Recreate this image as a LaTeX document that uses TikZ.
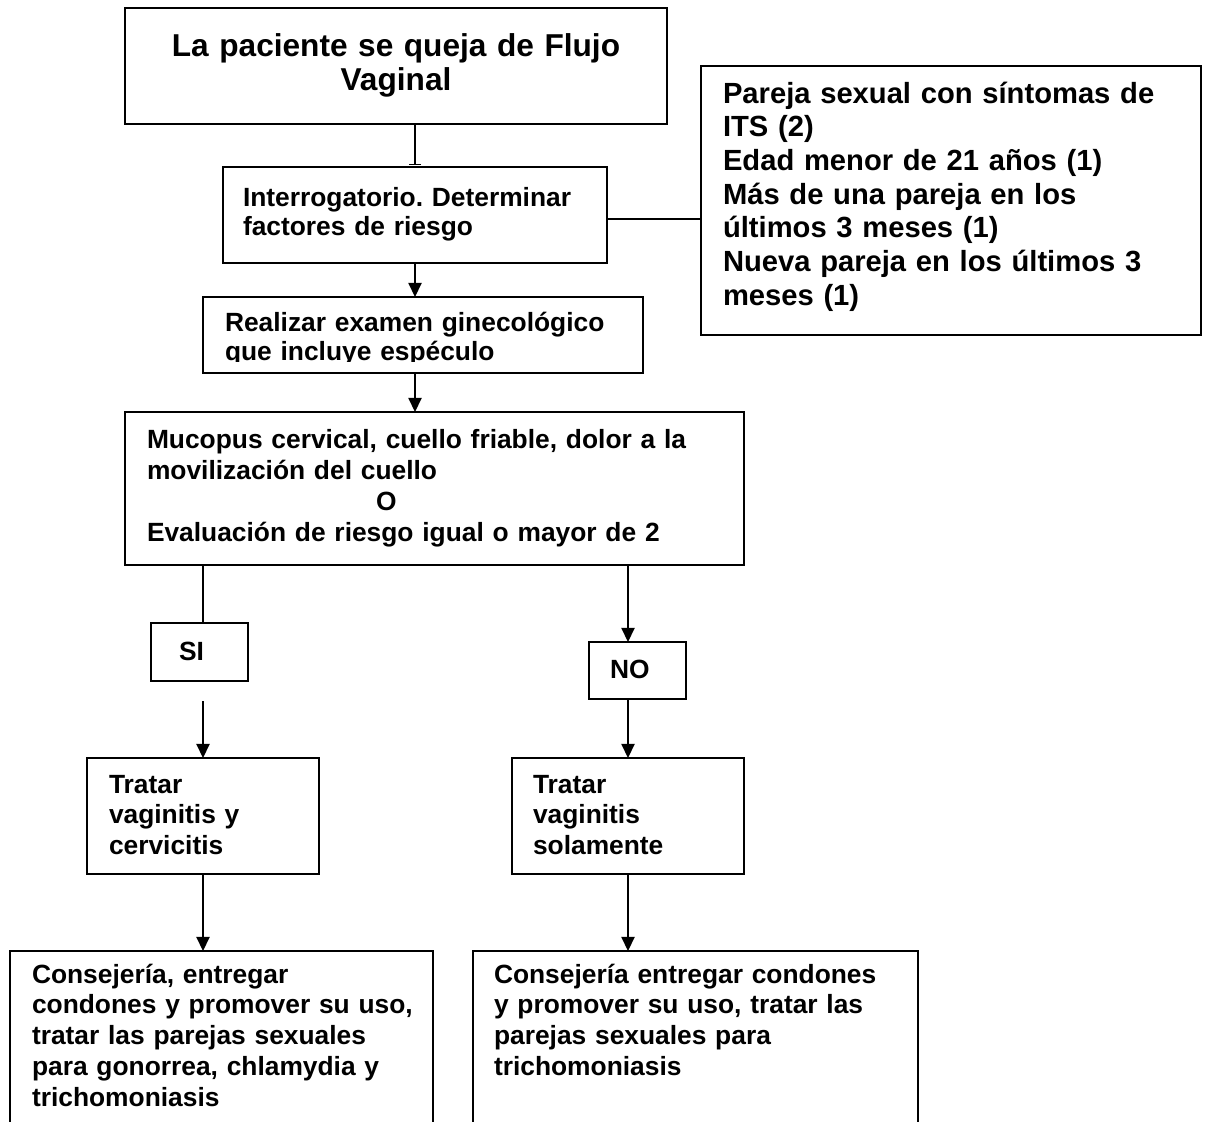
\documentclass[tikz,border=0pt]{standalone}
\usepackage{fontspec}
\setmainfont{Liberation Sans}
\usetikzlibrary{arrows.meta}
\newcommand{\flowtitle}{\bfseries\fontsize{18}{19.4}\selectfont}
\newcommand{\flowbody}{\bfseries\fontsize{15}{17.6}\selectfont}
\newcommand{\flowtight}{\bfseries\fontsize{15}{16.5}\selectfont}
\newcommand{\flowsigns}{\bfseries\fontsize{15}{17.8}\selectfont}
\newcommand{\flowrisk}{\bfseries\fontsize{16.6}{19.2}\selectfont}
\frenchspacing

\begin{document}
\begin{tikzpicture}[>={Triangle[length=8pt,width=7.5pt]}, line width=0.8pt]
	\tikzstyle{box} = [rectangle, draw=black, line width=1pt, anchor=north west, outer sep=0pt, inner ysep=0pt, inner xsep=0.44cm, align=left, font=\flowbody]
	\useasboundingbox (0,0) rectangle (24.1,-22.42);
	\clip (0,0) rectangle (24.1,-22.42);
	\node (complaint)[box, align=center, inner xsep=0.3cm, text width=10.24cm, text height=0.96cm, text depth=1.36cm, font=\flowtitle] at (2.50,-0.16) {La paciente se queja de Flujo\\Vaginal};
	\node (interview)[box, inner xsep=0.40cm, text width=6.88cm, text height=0.78cm, text depth=1.14cm, font=\flowtight] at (4.46,-3.34) {Interrogatorio. Determinar\\factores de riesgo};
	\node (risk)[box, text width=9.12cm, text height=0.74cm, text depth=4.64cm, font=\flowrisk] at (14.02,-1.32) {Pareja sexual con síntomas de\\ITS (2)\\Edad menor de 21 años (1)\\Más de una pareja en los\\últimos 3 meses (1)\\Nueva pareja en los últimos 3\\meses (1)};
	% text of the exam box is cut off at the bottom
	\begin{scope}
		\clip (3.9,-5.8) rectangle (13.1,-7.23);
		\node (exam)[box, draw=none, text width=7.92cm, text height=0.68cm, text depth=0.84cm, font=\flowtight] at (4.06,-5.94) {Realizar examen ginecológico\\que incluye espéculo};
	\end{scope}
	\draw [line width=1pt] (exam.north west) rectangle (exam.south east);
	\node (signs)[box, text width=11.50cm, text height=0.72cm, text depth=2.34cm, font=\flowsigns] at (2.50,-8.24) {Mucopus cervical, cuello friable, dolor a la\\movilización del cuello\\\hspace*{4.58cm}O\\Evaluación de riesgo igual o mayor de 2};
	\node (si)[box, inner xsep=0.56cm, text width=0.82cm, text height=0.74cm, text depth=0.42cm] at (3.02,-12.46) {SI};
	\node (no)[box, inner xsep=0.42cm, text width=1.10cm, text height=0.72cm, text depth=0.42cm] at (11.78,-12.84) {NO};
	\node (treatboth)[box, text width=3.76cm, text height=0.70cm, text depth=1.62cm] at (1.74,-15.16) {Tratar\\vaginitis y\\cervicitis};
	\node (treatvag)[box, inner xsep=0.42cm, text width=3.80cm, text height=0.70cm, text depth=1.62cm] at (10.24,-15.16) {Tratar\\vaginitis\\solamente};
	\node (counselboth)[box, text width=7.58cm, text height=0.64cm, text depth=3.34cm] at (0.20,-19.02) {Consejería, entregar\\\mbox{condones y promover su uso,}\\tratar las parejas sexuales\\para gonorrea, chlamydia y\\trichomoniasis};
	\node (counselvag)[box, inner xsep=0.42cm, text width=8.06cm, text height=0.64cm, text depth=3.34cm] at (9.46,-19.02) {Consejería entregar condones\\y promover su uso, tratar las\\parejas sexuales para\\trichomoniasis};
	% connectors
	\draw [-{Bar[width=7pt]}, shorten >=1pt] (interview.north |- complaint.south) -- (interview.north);
	\draw ([yshift=-0.08cm]interview.east) -- ([yshift=-0.08cm]interview.east -| risk.west);
	\draw [->] (interview.south) -- (interview.south |- exam.north);
	\draw [->] (interview.south |- exam.south) -- (interview.south |- signs.north);
	\draw (treatboth.north |- signs.south) -- (treatboth.north |- si.north);
	\path (treatboth.north |- si.south) ++(0,-0.4) coordinate (sigap);
	\draw [->] (sigap) -- (treatboth.north);
	\draw [->] (treatvag.north |- signs.south) -- (treatvag.north |- no.north);
	\draw [->] (treatvag.north |- no.south) -- (treatvag.north);
	\draw [->] (treatboth.south) -- (treatboth.south |- counselboth.north);
	\draw [->] (treatvag.south) -- (treatvag.south |- counselvag.north);
\end{tikzpicture}
\end{document}
